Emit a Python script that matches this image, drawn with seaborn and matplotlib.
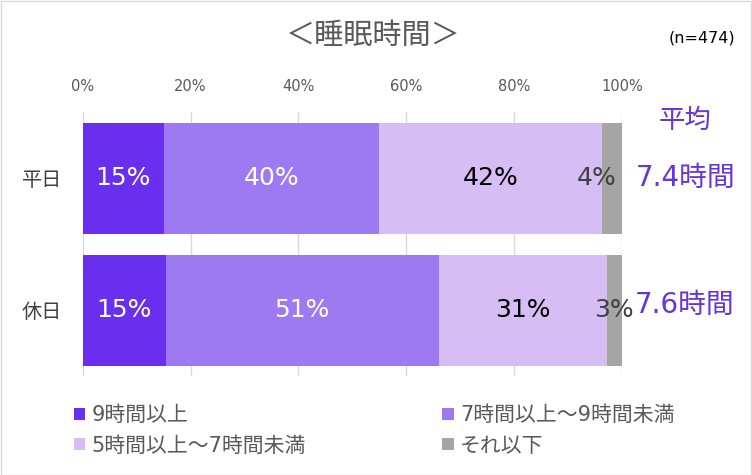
import numpy as np
import pandas as pd
import matplotlib
matplotlib.use("Agg")
import matplotlib.pyplot as plt
import seaborn as sns
from matplotlib.patches import Patch

sns.set_theme(style="white")
plt.rcParams['font.family'] = ['DejaVu Sans', 'Noto Sans CJK JP']

categories = ["平日", "休日"]
series_names = ["9時間以上", "7時間以上～9時間未満", "5時間以上～7時間未満", "それ以下"]
v_9plus = [15.0, 15.4]
v_7to9 = [39.9, 50.6]
v_5to7 = [41.4, 31.2]
v_less = [3.7, 2.8]
bar_labels = [["15%", "40%", "42%", "4%"], ["15%", "51%", "31%", "3%"]]
averages = ["7.4時間", "7.6時間"]
x_ticks = [0, 20, 40, 60, 80, 100]
x_ticklabels = ["0%", "20%", "40%", "60%", "80%", "100%"]

colors = ["#6A2EEF", "#9D7AF2", "#D6BDF3", "#A5A5A5"]
label_colors = ["white", "white", "black", "#404040"]
accent = "#6633DD"

series = [v_9plus, v_7to9, v_5to7, v_less]
vals = np.array(series)  # shape (4, 2)
cum = np.cumsum(vals, axis=0)
totals = cum[-1]
norm = cum / totals * 100  # normalized cumulative percentages

fig = plt.figure(figsize=(7.52, 4.75), dpi=100)
ax = fig.add_axes([0.110, 0.208, 0.717, 0.556])

for i in range(len(series) - 1, -1, -1):
    df = pd.DataFrame({"cat": categories, "val": norm[i]})
    sns.barplot(data=df, x="val", y="cat", orient="h", color=colors[i],
                saturation=1, width=0.84, ax=ax, zorder=2, edgecolor="none")

ax.set_xlim(0, 100)
ax.set_ylim(1.5, -0.5)
ax.set_xticks(x_ticks)
ax.set_xticklabels(x_ticklabels)
ax.xaxis.tick_top()
ax.tick_params(axis="x", length=0, labelsize=10.5, labelcolor="#595959", pad=13)
ax.tick_params(axis="y", length=0, labelsize=14.5, labelcolor="#404040", pad=15)
ax.set_xlabel("")
ax.set_ylabel("")
ax.grid(axis="x", color="#D9D9D9", linewidth=1, zorder=0)
ax.set_axisbelow(True)
for s in ax.spines.values():
    s.set_visible(False)

# segment labels
for j in range(len(categories)):
    starts = np.concatenate([[0], norm[:-1, j]])
    for i in range(len(series)):
        xc = (starts[i] + norm[i, j]) / 2
        if i == 3 and j == 0:
            xc -= 2.8
        ax.text(xc, j, bar_labels[j][i], ha="center", va="center",
                fontsize=18, color=label_colors[i], zorder=5)

# averages on the right
fig.text(0.911, 0.745, "平均", ha="center", va="center", fontsize=19, color=accent)
fig.text(0.912, 0.625, averages[0], ha="center", va="center", fontsize=20, color=accent)
fig.text(0.910, 0.358, averages[1], ha="center", va="center", fontsize=20, color=accent)

# title
fig.text(0.497, 0.925, "＜睡眠時間＞", ha="center", va="center", fontsize=21, color="#595959")
fig.text(0.934, 0.920, "(n=474)", ha="center", va="center", fontsize=11.5, color="black")

# legend: two columns placed as separate legends
leg_kw = dict(frameon=False, fontsize=15, handlelength=0.55, handleheight=0.55,
              handletextpad=0.3, labelspacing=0.5, labelcolor="#595959",
              borderaxespad=0, borderpad=0, loc="upper left")
col1 = [0, 2]
col2 = [1, 3]
leg1 = fig.legend([Patch(facecolor=colors[k], edgecolor="none") for k in col1],
                  [series_names[k] for k in col1], bbox_to_anchor=(0.098, 0.147), **leg_kw)
leg2 = fig.legend([Patch(facecolor=colors[k], edgecolor="none") for k in col2],
                  [series_names[k] for k in col2], bbox_to_anchor=(0.588, 0.147), **leg_kw)

# figure border
fig.patches.append(plt.Rectangle((0.001, 0.001), 0.998, 0.997, transform=fig.transFigure,
                                 fill=False, edgecolor="#D9D9D9", linewidth=1))

fig.savefig("out.png", dpi=100)
